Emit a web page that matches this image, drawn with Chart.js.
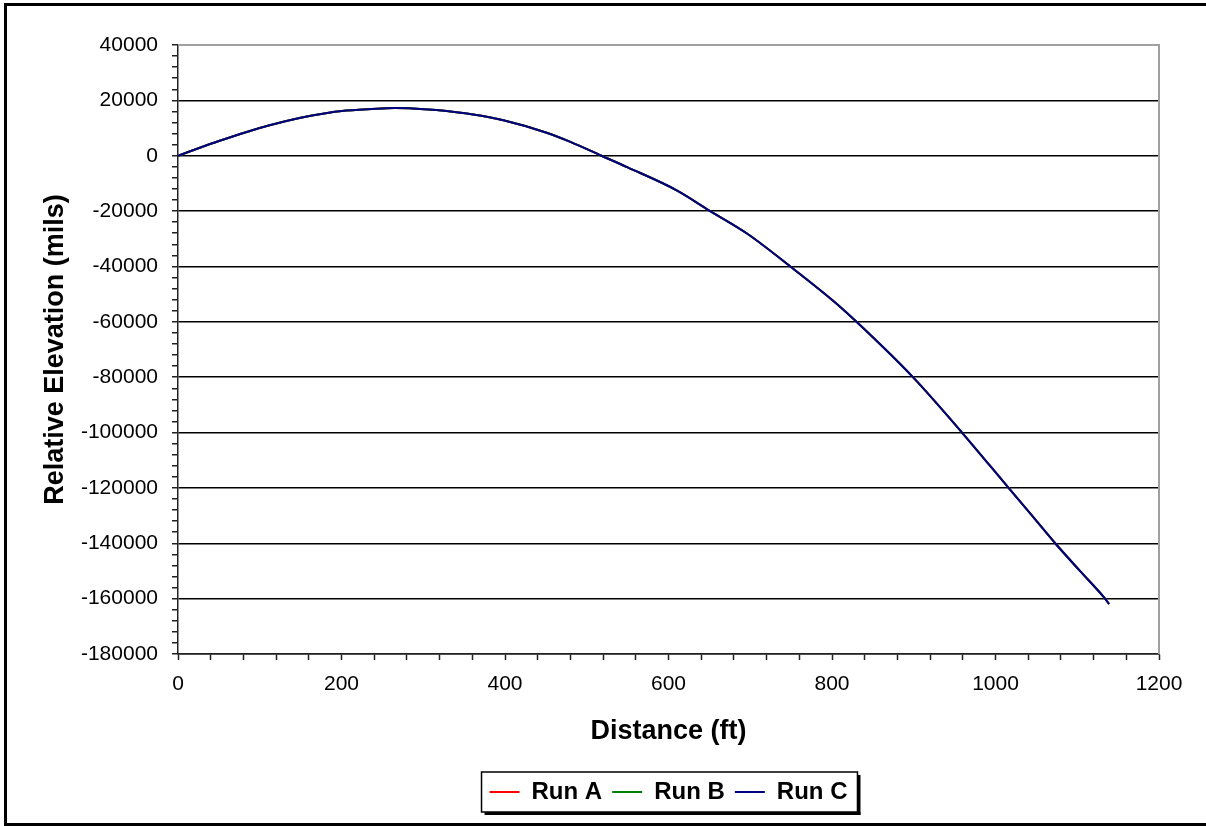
<!DOCTYPE html>
<html>
<head>
<meta charset="utf-8">
<script src="https://cdn.jsdelivr.net/npm/chart.js@4/dist/chart.umd.min.js"></script>
<style>
  html, body { margin: 0; padding: 0; background: #fff; }
  #wrap { position: relative; width: 1206px; height: 826px; }
</style>
</head>
<body>
<div id="wrap"><canvas id="elevationChart"></canvas></div>
<script>
// values
var distance = [0, 25, 50, 84, 112, 150, 177, 206, 243, 265, 287, 316, 361, 398, 450, 480, 518, 550, 610, 651, 696, 749, 801, 830, 899, 959, 1016, 1046, 1073, 1103, 1134, 1139];
var elevation = [0, 2700, 5300, 8600, 11000, 13700, 15200, 16300, 17000, 17200, 17100, 16500, 14900, 12800, 8400, 5000, 0, -4200, -12500, -20000, -28100, -40000, -52300, -60000, -80000, -100000, -120000, -130500, -140000, -149900, -160000, -162000];
var runNames = ['Run A', 'Run B', 'Run C'];
var runColors = ['#ff0000', '#008000', '#000080'];
var xTicks = [0, 200, 400, 600, 800, 1000, 1200];
var yTicks = [40000, 20000, 0, -20000, -40000, -60000, -80000, -100000, -120000, -140000, -160000, -180000];

var FONT = "'Liberation Sans', Arial, sans-serif";
Chart.defaults.color = '#000';
Chart.defaults.font.family = FONT;

var points = distance.map(function (d, i) { return { x: d, y: elevation[i] }; });

var frame = {
    id: 'frame',
    afterDraw: function (chart) {
        var ctx = chart.ctx, a = chart.chartArea;
        ctx.save();
        // plot area top / right edge
        ctx.strokeStyle = '#a0a0a0';
        ctx.lineWidth = 2;
        ctx.beginPath();
        ctx.moveTo(a.left, a.top);
        ctx.lineTo(a.right, a.top);
        ctx.lineTo(a.right, a.bottom);
        ctx.stroke();

        // legend box with shadow
        var hb = chart.legend.legendHitBoxes;
        if (hb && hb.length) {
            var last = hb[hb.length - 1];
            var l = hb[0].left - 8, r = last.left + last.width + 10;
            var t = hb[0].top - 8, b = hb[0].top + hb[0].height + 8;
            ctx.fillStyle = '#000';
            ctx.fillRect(l + 3, b, r - l, 3);
            ctx.fillRect(r, t + 3, 3, b - t);
            ctx.strokeStyle = '#000';
            ctx.lineWidth = 1.5;
            ctx.strokeRect(l, t, r - l, b - t);
        }

        // outer chart frame (right edge is cut off)
        ctx.fillStyle = '#000';
        ctx.fillRect(4, 3, 1202, 3);
        ctx.fillRect(4, 3, 3, 823);
        ctx.fillRect(4, 823, 1202, 3);
        ctx.restore();
    }
};

new Chart('elevationChart', {
    type: 'line',
    data: {
        datasets: runNames.map(function (name, i) {
            return {
                label: name,
                data: points,
                borderColor: runColors[i],
                backgroundColor: runColors[i],
                borderWidth: 2,
                pointRadius: 0,
                fill: false,
                cubicInterpolationMode: 'monotone',
                order: runNames.length - i
            };
        })
    },
    options: {
        responsive: true,
        maintainAspectRatio: false,
        animation: false,
        layout: { padding: { left: 0, right: 47, top: 45, bottom: 12 } },
        plugins: {
            tooltip: { enabled: false },
            legend: {
                position: 'bottom',
                fullSize: false,
                labels: {
                    boxWidth: 30,
                    boxHeight: 2,
                    padding: 10,
                    font: { size: 24, weight: 'bold', family: FONT },
                    sort: function (a, b) { return a.datasetIndex - b.datasetIndex; },
                    generateLabels: function (chart) {
                        var items = Chart.defaults.plugins.legend.labels.generateLabels(chart);
                        items.forEach(function (it) { it.lineWidth = 0; });
                        return items;
                    }
                }
            }
        },
        scales: {
            x: {
                type: 'linear',
                min: 0,
                max: 1200,
                afterFit: function (scale) { scale.height = 116; },
                ticks: {
                    stepSize: 40,
                    autoSkip: false,
                    maxRotation: 0,
                    padding: 12,
                    font: { size: 21, family: FONT },
                    callback: function (v) { return xTicks.indexOf(v) >= 0 ? String(v) : ''; }
                },
                grid: {
                    drawOnChartArea: false,
                    drawTicks: true,
                    tickLength: 6,
                    tickColor: '#222',
                    tickWidth: 1.5
                },
                border: { color: '#222', width: 1.5 },
                title: {
                    display: true,
                    text: 'Distance (ft)',
                    font: { size: 27, weight: 'bold', family: FONT },
                    padding: { top: 0, bottom: 22 }
                }
            },
            y: {
                type: 'linear',
                min: -180000,
                max: 40000,
                afterFit: function (scale) { scale.width = 178; },
                ticks: {
                    stepSize: 4000,
                    autoSkip: false,
                    maxTicksLimit: 100,
                    padding: 14,
                    font: { size: 21, family: FONT },
                    callback: function (v) { return yTicks.indexOf(v) >= 0 ? String(v) : ''; }
                },
                grid: {
                    drawTicks: true,
                    tickLength: 6,
                    tickColor: '#222',
                    tickWidth: 1.5,
                    lineWidth: 1.5,
                    color: function (c) {
                        if (!c.tick || c.tick.value === 40000) return 'rgba(0,0,0,0)';
                        return yTicks.indexOf(c.tick.value) >= 0 ? '#000' : 'rgba(0,0,0,0)';
                    }
                },
                border: { color: '#222', width: 1.5 },
                title: {
                    display: true,
                    text: 'Relative Elevation (mils)',
                    font: { size: 27, weight: 'bold', family: FONT },
                    padding: { top: 39, bottom: 0 }
                }
            }
        }
    },
    plugins: [frame]
});
</script>
</body>
</html>
